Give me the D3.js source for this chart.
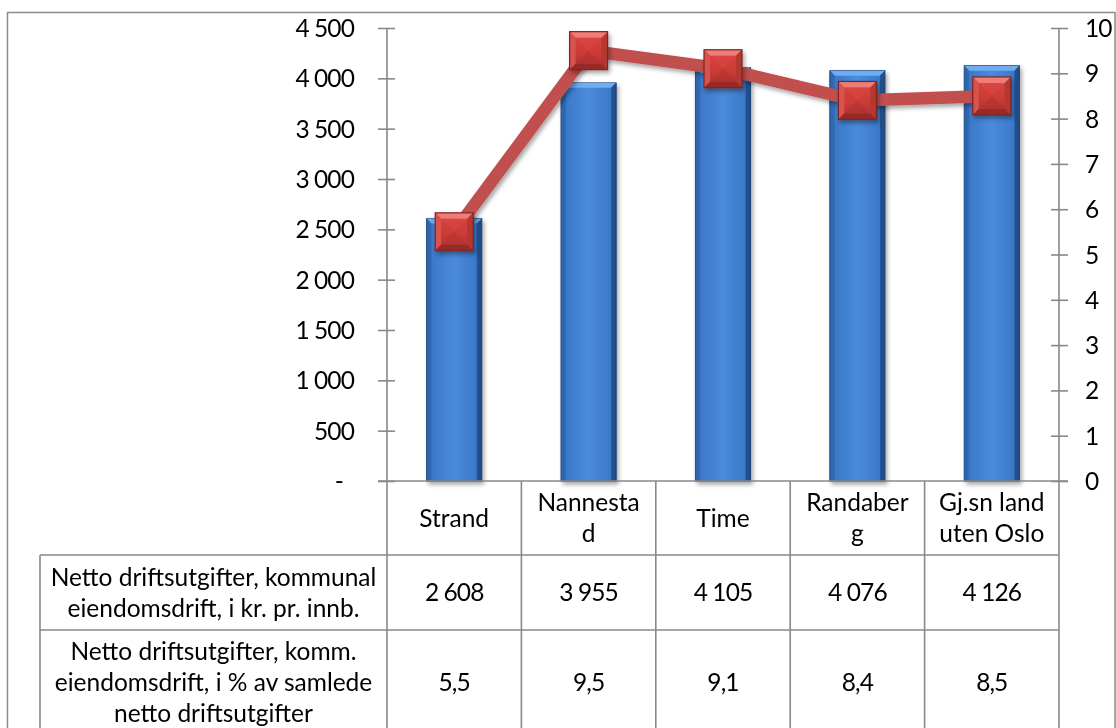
<!DOCTYPE html>
<html><head><meta charset="utf-8">
<script src="https://cdn.jsdelivr.net/npm/d3@7"></script>
<style>
html,body{margin:0;padding:0;background:#fff;}
svg{display:block;font-family:Lato,"Open Sans",sans-serif;}
</style></head>
<body>
<svg id="chart" width="1116" height="728"></svg>
<script>
// ---------- data ----------
const categories = ["Strand", "Nannestad", "Time", "Randaberg", "Gj.sn land uten Oslo"];
const categoryLines = [["Strand"], ["Nannesta", "d"], ["Time"], ["Randaber", "g"], ["Gj.sn land", "uten Oslo"]];
const barValues = [2608, 3955, 4105, 4076, 4126];
const lineValues = [5.5, 9.5, 9.1, 8.4, 8.5];
const seriesNameLines = [
  ["Netto driftsutgifter, kommunal", "eiendomsdrift, i kr. pr. innb."],
  ["Netto driftsutgifter, komm.", "eiendomsdrift, i % av samlede", "netto driftsutgifter"]
];
const leftTicks = [0, 500, 1000, 1500, 2000, 2500, 3000, 3500, 4000, 4500];
const rightTicks = [0, 1, 2, 3, 4, 5, 6, 7, 8, 9, 10];

// ---------- layout ----------
const W = 1116, H = 728;
const plotL = 387, plotR = 1059, plotT = 28, plotB = 481;
const row1B = 555, row2B = 630, row3B = 736;
const legendL = 40;
const FS = 24.5;
const NUM_LS = -0.9;
const gridColor = "#898989";

const loc = d3.formatLocale({decimal: ",", thousands: "\u00a0", grouping: [3], currency: ["", ""]});
const fmtInt = loc.format(",d");
const fmtDec = loc.format(".1f");

const svg = d3.select("#chart");
const defs = svg.append("defs");

// gradients
const bg = defs.append("linearGradient").attr("id", "barGrad").attr("x1", 0).attr("x2", 1).attr("y1", 0).attr("y2", 0);
[[0, "#24528f"], [0.08, "#3b78c8"], [0.5, "#4a8bdb"], [0.92, "#3b78c8"], [1, "#1f4a84"]]
  .forEach(([o, c]) => bg.append("stop").attr("offset", o).attr("stop-color", c));
const mg = defs.append("linearGradient").attr("id", "mkGrad").attr("x1", 0).attr("x2", 0).attr("y1", 0).attr("y2", 1);
[[0, "#db443f"], [0.55, "#cb3b37"], [1, "#ae312e"]]
  .forEach(([o, c]) => mg.append("stop").attr("offset", o).attr("stop-color", c));
const sh = defs.append("filter").attr("id", "shadow").attr("x", "-30%").attr("y", "-30%").attr("width", "160%").attr("height", "160%");
sh.append("feDropShadow").attr("dx", 2).attr("dy", 3).attr("stdDeviation", 2.2).attr("flood-color", "#000").attr("flood-opacity", 0.35);

// scales
const x = d3.scaleBand().domain(categories).range([plotL, plotR]).paddingInner(0.59).paddingOuter(0.295);
const xCell = d3.scaleBand().domain(categories).range([plotL, plotR]);
const yL = d3.scaleLinear().domain([0, 4500]).range([plotB, plotT]);
const yR = d3.scaleLinear().domain([0, 10]).range([plotB, plotT]);

// outer frame
svg.append("rect").attr("x", 7.5).attr("y", 12.5).attr("width", 1107.5).attr("height", 800)
  .attr("fill", "none").attr("stroke", "#8c8c8c").attr("stroke-width", 1.5);

// bars
const bars = svg.append("g").attr("filter", "url(#shadow)");
categories.forEach((c, i) => {
  const bx = x(c), bw = x.bandwidth(), by = yL(barValues[i]), bh = plotB - by;
  const g = bars.append("g");
  g.append("rect").attr("x", bx).attr("y", by).attr("width", bw).attr("height", bh)
    .attr("fill", "url(#barGrad)").attr("stroke", "#1d4274").attr("stroke-width", 1);
  const b = 5;
  g.append("path").attr("d", `M${bx},${by}L${bx + bw},${by}L${bx + bw - b},${by + b}L${bx + b},${by + b}Z`).attr("fill", "#70acf0");
  g.append("path").attr("d", `M${bx},${by}L${bx + b},${by + b}L${bx + b},${plotB}L${bx},${plotB}Z`).attr("fill", "#2f66ae").attr("opacity", 0.8);
  g.append("path").attr("d", `M${bx + bw},${by}L${bx + bw - b},${by + b}L${bx + bw - b},${plotB}L${bx + bw},${plotB}Z`).attr("fill", "#1f4a84").attr("opacity", 0.8);
});

// axes lines + ticks
const axisG = svg.append("g").attr("stroke", gridColor).attr("stroke-width", 1.6);
// left axis
const leftAxis = d3.axisLeft(yL).tickValues(leftTicks).tickSize(0).tickFormat(d => d === 0 ? "-" : fmtInt(d));
const la = svg.append("g").attr("transform", `translate(${plotL},0)`).call(leftAxis);
la.select(".domain").remove();
la.selectAll(".tick line").attr("x1", -9).attr("x2", 8).attr("stroke", gridColor).attr("stroke-width", 1.6);
la.selectAll(".tick text").attr("x", d => d === 0 ? -44 : -33).attr("font-size", FS).attr("font-family", "Lato")
  .attr("letter-spacing", NUM_LS).attr("fill", "#000").attr("dy", "0.35em");
// right axis
const rightAxis = d3.axisRight(yR).tickValues(rightTicks).tickSize(0).tickFormat(d3.format("d"));
const ra = svg.append("g").attr("transform", `translate(${plotR},0)`).call(rightAxis);
ra.select(".domain").remove();
ra.selectAll(".tick line").attr("x1", -8).attr("x2", 9).attr("stroke", gridColor).attr("stroke-width", 1.6);
ra.selectAll(".tick text").attr("x", 26).attr("font-size", FS).attr("font-family", "Lato")
  .attr("letter-spacing", NUM_LS).attr("fill", "#000").attr("dy", "0.35em");

// grid / table lines
axisG.append("line").attr("x1", plotL).attr("x2", plotL).attr("y1", plotT).attr("y2", H + 10);
axisG.append("line").attr("x1", plotR).attr("x2", plotR).attr("y1", plotT).attr("y2", H + 10);
axisG.append("line").attr("x1", 378).attr("x2", plotR + 9).attr("y1", plotB).attr("y2", plotB);
axisG.append("line").attr("x1", legendL).attr("x2", plotR).attr("y1", row1B).attr("y2", row1B);
axisG.append("line").attr("x1", legendL).attr("x2", plotR).attr("y1", row2B).attr("y2", row2B);
axisG.append("line").attr("x1", legendL).attr("x2", legendL).attr("y1", row1B).attr("y2", H + 10);
categories.slice(1).forEach(c => {
  axisG.append("line").attr("x1", xCell(c)).attr("x2", xCell(c)).attr("y1", plotB).attr("y2", H + 10);
});

// line series
const lineGen = d3.line().x((d, i) => x(categories[i]) + x.bandwidth() / 2).y(d => yR(d)).curve(d3.curveLinear);
svg.append("path").datum(lineValues).attr("d", lineGen).attr("fill", "none")
  .attr("stroke", "#c0504d").attr("stroke-width", 12.5).attr("stroke-linejoin", "round").attr("filter", "url(#shadow)");

// markers
const mk = svg.append("g");
lineValues.forEach((v, i) => {
  const cx = x(categories[i]) + x.bandwidth() / 2, cy = yR(v), s = 19, b = 6;
  const g = mk.append("g").attr("transform", `translate(${cx},${cy})`).attr("filter", "url(#shadow)");
  g.append("rect").attr("x", -s).attr("y", -s).attr("width", 2 * s).attr("height", 2 * s).attr("fill", "url(#mkGrad)");
  g.append("path").attr("d", `M${-s},${-s}L${s},${-s}L${s - b},${-s + b}L${-s + b},${-s + b}Z`).attr("fill", "#ee7d78");
  g.append("path").attr("d", `M${-s},${-s}L${-s + b},${-s + b}L${-s + b},${s - b}L${-s},${s}Z`).attr("fill", "#d7524e");
  g.append("path").attr("d", `M${s},${-s}L${s - b},${-s + b}L${s - b},${s - b}L${s},${s}Z`).attr("fill", "#b33733");
  g.append("path").attr("d", `M${-s},${s}L${-s + b},${s - b}L${s - b},${s - b}L${s},${s}Z`).attr("fill", "#962a27");
  g.append("path").attr("d", `M${-s + b},${-s + b}L0,0L${s - b},${-s + b}Z`).attr("fill", "#dc4844").attr("opacity", 0.5);
  g.append("path").attr("d", `M${-s + b},${s - b}L0,0L${s - b},${s - b}Z`).attr("fill", "#a92f2c").attr("opacity", 0.4);
  g.append("rect").attr("x", -s).attr("y", -s).attr("width", 2 * s).attr("height", 2 * s).attr("fill", "none")
    .attr("stroke", "#7e2422").attr("stroke-width", 1.2);
});

// table texts
const lh = 31;
function multiline(cx, cy, lines, numeric) {
  const t = svg.append("text").attr("x", cx).attr("text-anchor", "middle").attr("font-size", FS).attr("fill", "#000");
  if (numeric) t.attr("letter-spacing", NUM_LS);
  const y0 = cy - (lines.length - 1) * lh / 2;
  lines.forEach((ln, k) => t.append("tspan").attr("x", cx).attr("y", y0 + k * lh).attr("dy", "0.35em").text(ln));
}
categories.forEach((c, i) => {
  const cx = xCell(c) + xCell.bandwidth() / 2;
  multiline(cx, (plotB + row1B) / 2, categoryLines[i], false);
  multiline(cx, (row1B + row2B) / 2, [fmtInt(barValues[i])], true);
  multiline(cx, (row2B + row3B) / 2 - 1, [fmtDec(lineValues[i])], true);
});
multiline((legendL + plotL) / 2, (row1B + row2B) / 2, seriesNameLines[0], false);
multiline((legendL + plotL) / 2, (row2B + row3B) / 2 - 1, seriesNameLines[1], false);
</script>
</body></html>
